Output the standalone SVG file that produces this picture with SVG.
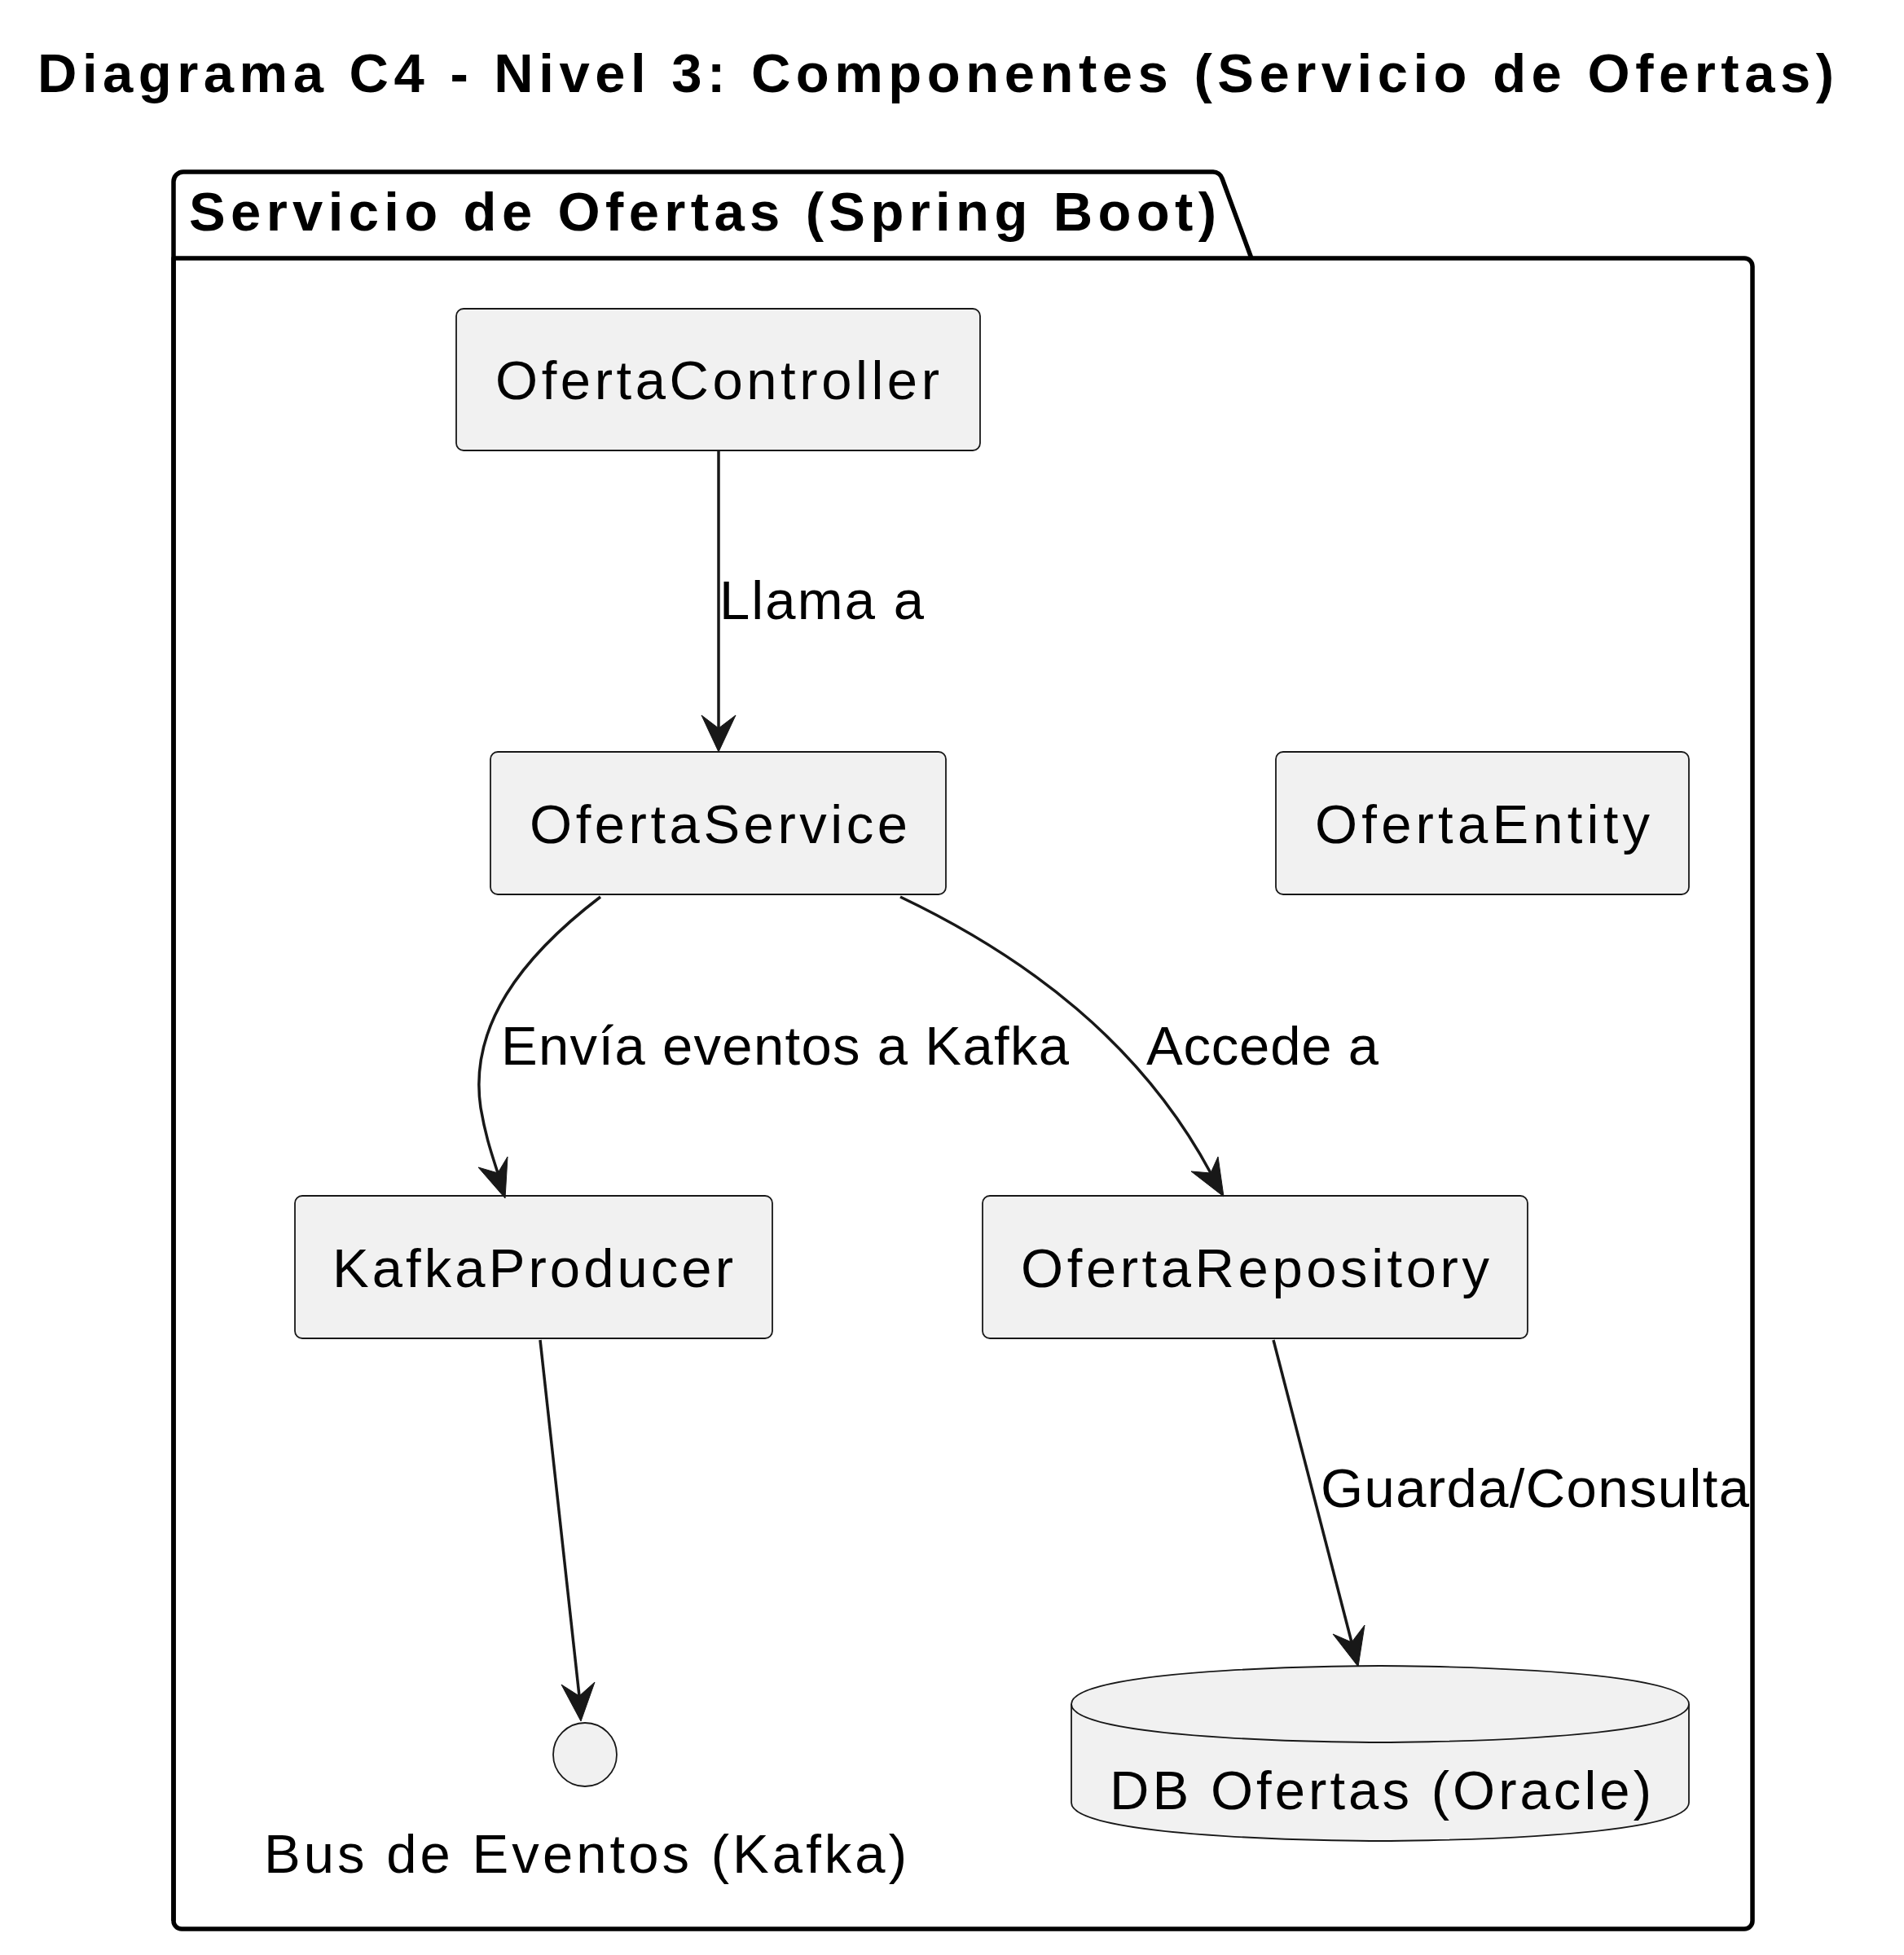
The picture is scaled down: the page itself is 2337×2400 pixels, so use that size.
<svg xmlns="http://www.w3.org/2000/svg" width="2337" height="2400" viewBox="0 0 2337 2400">
<style>
.t{font-family:"Liberation Sans",Arial,sans-serif;font-size:67px;fill:#000000}
.b{font-weight:bold}
.box{fill:#F1F1F1;stroke:#181818;stroke-width:1.8}
.pkg{fill:none;stroke:#000000;stroke-width:5.5;stroke-linejoin:round}
.edge{fill:none;stroke:#181818;stroke-width:3.5}
.head{fill:#181818;stroke:#181818;stroke-width:1;stroke-linejoin:miter}
</style>
<rect x="0" y="0" width="2337" height="2400" fill="#FFFFFF"/>
<text class="t b" x="46" y="113" textLength="2205" lengthAdjust="spacing">Diagrama C4 - Nivel 3: Componentes (Servicio de Ofertas)</text>

<g id="package">
<path class="pkg" d="M213,2358 L213,223 A12,12 0 0 1 225,211 L1489,211 A12,12 0 0 1 1500,219 L1536,317"/>
<path class="pkg" d="M213,317 L2141,317 A10,10 0 0 1 2151,327 L2151,2358 A10,10 0 0 1 2141,2368 L223,2368 A10,10 0 0 1 213,2358 Z"/>
<text class="t b" x="232" y="283" textLength="1261" lengthAdjust="spacing">Servicio de Ofertas (Spring Boot)</text>
</g>

<g id="OfertaController">
<rect class="box" x="560" y="379" width="643" height="174" rx="9"/>
<text class="t" x="608" y="490" textLength="545" lengthAdjust="spacing">OfertaController</text>
</g>
<g id="OfertaService">
<rect class="box" x="602" y="923" width="559" height="175" rx="9"/>
<text class="t" x="650" y="1035" textLength="464" lengthAdjust="spacing">OfertaService</text>
</g>
<g id="OfertaEntity">
<rect class="box" x="1566" y="923" width="507" height="175" rx="9"/>
<text class="t" x="1614" y="1035" textLength="411" lengthAdjust="spacing">OfertaEntity</text>
</g>
<g id="KafkaProducer">
<rect class="box" x="362" y="1468" width="586" height="175" rx="9"/>
<text class="t" x="408" y="1580" textLength="492" lengthAdjust="spacing">KafkaProducer</text>
</g>
<g id="OfertaRepository">
<rect class="box" x="1206" y="1468" width="669" height="175" rx="9"/>
<text class="t" x="1253" y="1580" textLength="575" lengthAdjust="spacing">OfertaRepository</text>
</g>
<g id="BusEventos">
<circle class="box" cx="718" cy="2154" r="39"/>
<text class="t" x="324" y="2299" textLength="789" lengthAdjust="spacing">Bus de Eventos (Kafka)</text>
</g>
<g id="DBOfertas">
<path class="box" d="M1315,2092 C1315,2045 1694,2045 1694,2045 C1694,2045 2073,2045 2073,2092 L2073,2213 C2073,2260 1694,2260 1694,2260 C1694,2260 1315,2260 1315,2213 Z"/>
<path class="box" style="fill:none" d="M1315,2092 C1315,2139 1694,2139 1694,2139 C1694,2139 2073,2139 2073,2092"/>
<text class="t" x="1362" y="2221" textLength="665" lengthAdjust="spacing">DB Ofertas (Oracle)</text>
</g>

<g id="connectors">
<path class="edge" d="M882,553 L882,894"/>
<polygon class="head" points="882,923 861,878 882,894 903,878"/>
<text class="t" x="883" y="760" textLength="251" lengthAdjust="spacing">Llama a</text>

<path class="edge" d="M737,1101 C640,1175 575,1260 590,1360 C596,1395 603,1415 611,1440"/>
<polygon class="head" points="620,1471 587,1433 611,1440 623,1420"/>
<text class="t" x="615" y="1307" textLength="697" lengthAdjust="spacing">Envía eventos a Kafka</text>

<path class="edge" d="M1105,1101 C1260,1175 1400,1280 1486,1440"/>
<polygon class="head" points="1502,1469 1462,1438 1486,1440 1495,1420"/>
<text class="t" x="1407" y="1307" textLength="285" lengthAdjust="spacing">Accede a</text>

<path class="edge" d="M663,1645 L711,2082"/>
<polygon class="head" points="713,2113 689,2068 711,2082 730,2065"/>

<path class="edge" d="M1563,1645 L1659,2016"/>
<polygon class="head" points="1667,2046 1636,2006 1659,2016 1675,1995"/>
<text class="t" x="1621" y="1850" textLength="526" lengthAdjust="spacing">Guarda/Consulta</text>
</g>
</svg>
